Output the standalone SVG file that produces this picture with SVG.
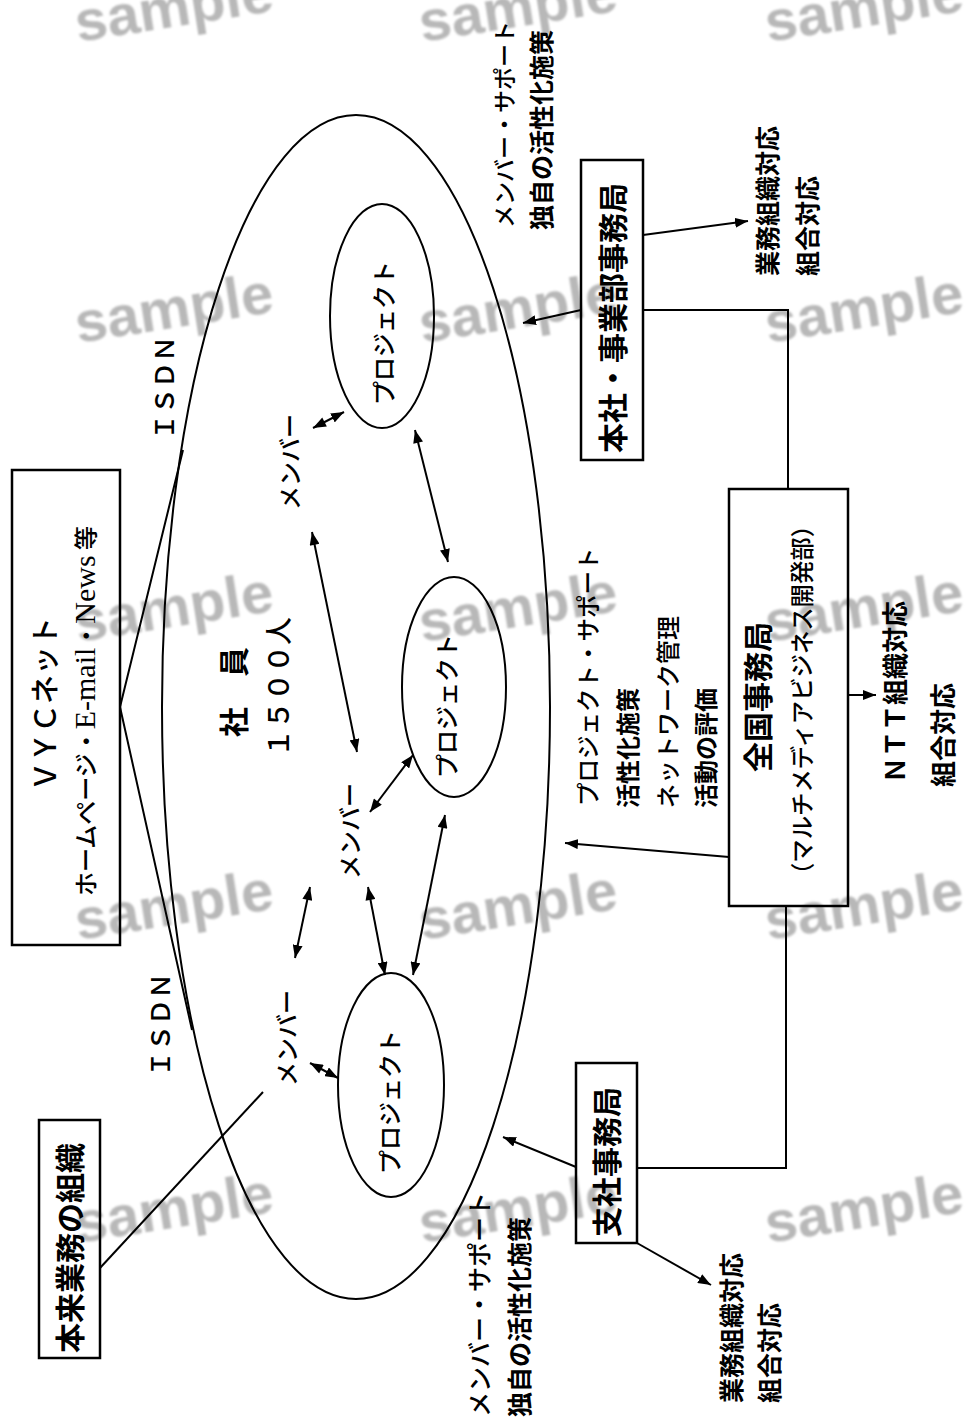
<svg xmlns="http://www.w3.org/2000/svg" width="966" height="1422" viewBox="0 0 966 1422">
<style>
.wm{font-family:"Liberation Sans",Arial,sans-serif;font-weight:bold;font-size:58px;fill:#b8b8b8;filter:url(#soft)}
.t{font-family:"Noto Sans CJK JP","Noto Sans CJK SC",sans-serif;fill:#000;font-weight:500}
.b{font-weight:bold}
.c{text-anchor:middle;dominant-baseline:central}
.s{text-anchor:start;dominant-baseline:central}
.ln{stroke:#000;stroke-width:2;fill:none}
.box{stroke:#000;stroke-width:2.5;fill:none}
.ar{stroke:#000;stroke-width:2;fill:none;marker-end:url(#ah)}
.dar{stroke:#000;stroke-width:2;fill:none;marker-end:url(#ah);marker-start:url(#ahs)}
</style>
<defs>
<filter id="soft" x="-5%" y="-20%" width="110%" height="140%"><feGaussianBlur stdDeviation="1.1"/></filter>
<marker id="ah" markerUnits="userSpaceOnUse" markerWidth="14" markerHeight="10" refX="13" refY="5" orient="auto">
<path d="M0,0 L13,5 L0,10 z" fill="#000"/>
</marker>
<marker id="ahs" markerUnits="userSpaceOnUse" markerWidth="14" markerHeight="10" refX="0" refY="5" orient="auto">
<path d="M13,0 L0,5 L13,10 z" fill="#000"/>
</marker>
</defs>
<rect width="966" height="1422" fill="#fff"/>
<g id="watermarks">
<text class="wm" x="78" y="42" transform="rotate(-9 78 42)">sample</text>
<text class="wm" x="422" y="42" transform="rotate(-9 422 42)">sample</text>
<text class="wm" x="768" y="42" transform="rotate(-9 768 42)">sample</text>
<text class="wm" x="78" y="343" transform="rotate(-9 78 343)">sample</text>
<text class="wm" x="422" y="343" transform="rotate(-9 422 343)">sample</text>
<text class="wm" x="768" y="343" transform="rotate(-9 768 343)">sample</text>
<text class="wm" x="78" y="642" transform="rotate(-9 78 642)">sample</text>
<text class="wm" x="422" y="642" transform="rotate(-9 422 642)">sample</text>
<text class="wm" x="768" y="642" transform="rotate(-9 768 642)">sample</text>
<text class="wm" x="78" y="940" transform="rotate(-9 78 940)">sample</text>
<text class="wm" x="422" y="940" transform="rotate(-9 422 940)">sample</text>
<text class="wm" x="768" y="940" transform="rotate(-9 768 940)">sample</text>
<text class="wm" x="78" y="1243" transform="rotate(-9 78 1243)">sample</text>
<text class="wm" x="422" y="1243" transform="rotate(-9 422 1243)">sample</text>
<text class="wm" x="768" y="1243" transform="rotate(-9 768 1243)">sample</text>
</g>
<g id="employees">
<ellipse class="ln" cx="356" cy="707" rx="194" ry="592"/>
<text class="t b c" font-size="30" transform="translate(232 692) rotate(-90)">社　員</text>
<text class="t c" font-size="28" transform="translate(277 687) rotate(-90)">１５００人</text>
</g>
<g id="project1">
<ellipse class="ln" cx="382" cy="316" rx="52" ry="112"/>
<text class="t c" font-size="24" transform="translate(382 333) rotate(-90)">プロジェクト</text>
</g>
<g id="project2">
<ellipse class="ln" cx="454" cy="687" rx="52" ry="110"/>
<text class="t c" font-size="24" transform="translate(445 706) rotate(-90)">プロジェクト</text>
</g>
<g id="project3">
<ellipse class="ln" cx="391" cy="1085" rx="53" ry="112"/>
<text class="t c" font-size="24" transform="translate(388 1102) rotate(-90)">プロジェクト</text>
</g>
<g id="member1"><text class="t c" font-size="24" transform="translate(288 462) rotate(-90)">メンバー</text></g>
<g id="member2"><text class="t c" font-size="24" transform="translate(348 831) rotate(-90)">メンバー</text></g>
<g id="member3"><text class="t c" font-size="24" transform="translate(285 1038) rotate(-90)">メンバー</text></g>
<g id="vycnet">
<rect class="box" x="12" y="470" width="108" height="475"/>
<text class="t c" font-size="29" transform="translate(43 704) rotate(-90)">ＶＹＣネット</text>
<text class="t c" font-size="24" transform="translate(84 711) rotate(-90)">ホームページ・<tspan font-family="Liberation Serif,serif" font-size="30">E-mail</tspan>・<tspan font-family="Liberation Serif,serif" font-size="30">News</tspan> 等</text>
</g>
<g id="isdn-labels">
<text class="t c" font-size="26" transform="translate(162 388) rotate(-90)">ＩＳＤＮ</text>
<text class="t c" font-size="26" transform="translate(158 1025) rotate(-90)">ＩＳＤＮ</text>
</g>
<g id="honrai">
<rect class="box" x="39" y="1120" width="61" height="238"/>
<text class="t b c" font-size="30" transform="translate(68 1248) rotate(-90)">本来業務の組織</text>
</g>
<g id="honsha">
<rect class="box" x="581" y="160" width="62" height="300"/>
<text class="t b c" font-size="30" transform="translate(611 318) rotate(-90)">本社・事業部事務局</text>
</g>
<g id="zenkoku">
<rect class="box" x="729" y="489" width="119" height="417"/>
<text class="t b c" font-size="30" transform="translate(756 697) rotate(-90)">全国事務局</text>
<text class="t c" font-size="24" textLength="372" lengthAdjust="spacingAndGlyphs" transform="translate(800 700) rotate(-90)">（マルチメディアビジネス開発部）</text>
</g>
<g id="shisha">
<rect class="box" x="576" y="1063" width="61" height="180"/>
<text class="t b c" font-size="30" transform="translate(605 1162) rotate(-90)">支社事務局</text>
</g>
<g id="labels">
<text class="t s" font-size="23" transform="translate(503 228) rotate(-90)">メンバー・サポート</text>
<text class="t b s" font-size="25" transform="translate(540 230) rotate(-90)">独自の活性化施策</text>
<text class="t b s" font-size="25" transform="translate(766 276) rotate(-90)">業務組織対応</text>
<text class="t b s" font-size="25" transform="translate(806 276) rotate(-90)">組合対応</text>
<text class="t s" font-size="23.5" transform="translate(587 806) rotate(-90)">プロジェクト・サポート</text>
<text class="t b s" font-size="24" transform="translate(626 808) rotate(-90)">活性化施策</text>
<text class="t s" font-size="24" transform="translate(666 808) rotate(-90)">ネットワーク管理</text>
<text class="t b s" font-size="24" transform="translate(704 808) rotate(-90)">活動の評価</text>
<text class="t b c" font-size="26" transform="translate(893 692) rotate(-90)">ＮＴＴ組織対応</text>
<text class="t b c" font-size="26" transform="translate(941 735) rotate(-90)">組合対応</text>
<text class="t s" font-size="25" transform="translate(478 1417) rotate(-90)">メンバー・サポート</text>
<text class="t b s" font-size="25" transform="translate(518 1417) rotate(-90)">独自の活性化施策</text>
<text class="t b s" font-size="25" transform="translate(730 1403) rotate(-90)">業務組織対応</text>
<text class="t b s" font-size="25" transform="translate(768 1403) rotate(-90)">組合対応</text>
</g>
<g id="connectors">
<path class="ln" d="M183,450 L120,707 L192,1030"/>
<path class="ln" d="M100,1268 L263,1092"/>
<path class="ln" d="M643,310 H788 V489"/>
<path class="ln" d="M786,906 V1168 H637"/>
<path class="ar" d="M581,310 L523,323"/>
<path class="ar" d="M643,235 L748,221"/>
<path class="ar" d="M729,857 L565,843"/>
<path class="ar" d="M848,695 L876,695"/>
<path class="ar" d="M576,1167 L503,1137"/>
<path class="ar" d="M637,1243 L711,1285"/>
<path class="dar" d="M313,428 L344,412"/>
<path class="dar" d="M415,430 L448,562"/>
<path class="dar" d="M312,532 L357,752"/>
<path class="dar" d="M370,812 L413,755"/>
<path class="dar" d="M368,887 L385,975"/>
<path class="dar" d="M445,815 L413,975"/>
<path class="dar" d="M310,887 L295,958"/>
<path class="dar" d="M310,1063 L338,1078"/>
</g>
</svg>
